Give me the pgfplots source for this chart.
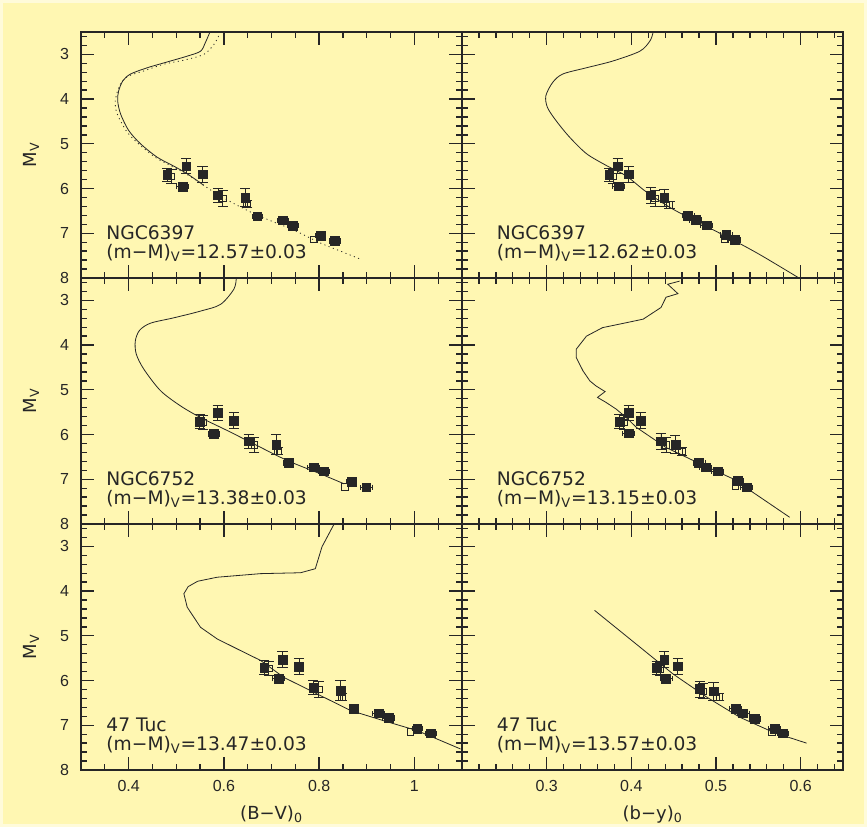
\documentclass[border=0pt]{standalone}
\usepackage{fontspec}
\setmainfont{Liberation Sans}
\newfontfamily\annfont{DejaVu Sans}
\usepackage{pgfplots}
\pgfplotsset{compat=1.18}

\definecolor{bg}{RGB}{255,247,178}
\definecolor{bgedge}{RGB}{255,251,218}
\definecolor{ink}{RGB}{38,38,38}

\newcommand\ticksfont{\fontsize{12}{14}\selectfont}
\newcommand\annsize{\annfont\fontsize{14}{16}\selectfont}
\newcommand\labsize{\annfont\fontsize{13.5}{16}\selectfont}

\pgfplotsset{
  panel/.style={
    scale only axis, width=285.75pt, height=184.5pt, anchor=north west,
    ymin=2.5, ymax=8, y dir=reverse,
    ytick={3,4,5,6,7,8},
    minor ytick={2.6,2.8,3.2,3.4,3.6,3.8,4.2,4.4,4.6,4.8,5.2,5.4,5.6,5.8,6.2,6.4,6.6,6.8,7.2,7.4,7.6,7.8},
    tick align=inside,
    major tick length=9.75pt, minor tick length=4.5pt,
    every tick/.style={ink, line width=1pt},
    axis line style={ink, line width=1.3pt},
    ticklabel style={font=\ticksfont, text=ink},
    /pgf/number format/assume math mode=true,
    xticklabel shift=4.5pt, yticklabel shift=5.5pt,
    clip mode=individual,
  },
  bv/.style={xmin=0.3, xmax=1.1, xtick={0.4,0.6,0.8,1},
    minor xtick={0.35,0.45,0.5,0.55,0.65,0.7,0.75,0.85,0.9,0.95,1.05}},
  by/.style={xmin=0.2, xmax=0.65, xtick={0.3,0.4,0.5,0.6},
    minor xtick={0.22,0.24,0.26,0.28,0.32,0.34,0.36,0.38,0.42,0.44,0.46,0.48,0.52,0.54,0.56,0.58,0.62,0.64},
    yticklabels={}},
  notx/.style={xticklabels={}},
  iso/.style={ink, line width=0.6pt, mark=none},
  filled/.style={only marks, mark=square*, mark size=3.3pt, draw=ink, fill=ink},
  open/.style={only marks, mark=square, mark size=2.5pt, ink, mark options={line width=0.6pt}},
  yerr/.style={error bars/.cd, y dir=both, y explicit,
    error bar style={line width=0.7pt, ink},
    error mark options={rotate=90, mark size=3.8pt, line width=0.7pt, ink}},
  xerr/.style={error bars/.cd, x dir=both, x explicit,
    error bar style={line width=0.7pt, ink},
    error mark options={rotate=90, mark size=2pt, line width=0.7pt, ink}},
}

\begin{document}
\begin{tikzpicture}
\fill[bgedge] (0,0) rectangle (650.25pt,620.25pt);
\fill[bg] (2.25pt,2.25pt) rectangle (648pt,618pt);

% NGC6397, (B-V)
\begin{axis}[panel, bv, notx, at={(60.75pt,596.25pt)}]
\addplot[iso, smooth] coordinates {(0.570,2.52) (0.561,2.74) (0.551,2.93) (0.523,3.04) (0.481,3.17) (0.439,3.30) (0.404,3.44) (0.388,3.59) (0.379,3.82) (0.377,4.04) (0.383,4.33) (0.400,4.70) (0.425,5.00) (0.460,5.30) (0.495,5.50) (0.523,5.67) (0.558,5.93)};
\addplot[iso, smooth, dash pattern=on 0.8pt off 2.6pt] coordinates {(0.589,2.59) (0.579,2.78) (0.558,3.00) (0.516,3.13) (0.474,3.22) (0.432,3.37) (0.397,3.50) (0.381,3.70) (0.372,4.04) (0.376,4.33) (0.397,4.74) (0.425,5.04) (0.460,5.33) (0.502,5.56) (0.540,5.80) (0.579,6.08) (0.620,6.33) (0.663,6.56) (0.705,6.75) (0.747,6.93) (0.803,7.22) (0.845,7.40) (0.887,7.58)};
\addplot[open, yerr] coordinates {(0.490,5.73) +- (0,0.15) (0.598,6.22) +- (0,0.17) (0.649,6.34) +- (0,0.08)};
\addplot[open] coordinates {(0.789,7.14)};
\addplot[filled, yerr] coordinates {(0.481,5.70) +- (0,0.15) (0.521,5.50) +- (0,0.17) (0.555,5.68) +- (0,0.18) (0.588,6.15) +- (0,0.16) (0.645,6.20) +- (0,0.20)};
\addplot[filled, xerr] coordinates {(0.513,5.96) +- (0.012,0) (0.670,6.62) +- (0.010,0) (0.724,6.71) +- (0.012,0) (0.745,6.83) +- (0.012,0) (0.803,7.05) +- (0.010,0) (0.833,7.17) +- (0.012,0)};
\node[anchor=base west, font=\annsize, text=ink, inner sep=0] at (axis description cs:0.066,0.156) {NGC6397};
\node[anchor=base west, font=\annsize, text=ink, inner sep=0] at (axis description cs:0.066,0.079) {(m−M)\textsubscript{V}=12.57±0.03};
\end{axis}

% NGC6397, (b-y)
\begin{axis}[panel, by, notx, at={(346.5pt,596.25pt)}]
\addplot[iso, smooth] coordinates {(0.4255,2.52) (0.422,2.70) (0.410,2.93) (0.378,3.15) (0.347,3.30) (0.319,3.44) (0.307,3.63) (0.299,3.93) (0.301,4.19) (0.311,4.48) (0.327,4.85) (0.347,5.22) (0.370,5.48) (0.394,5.72) (0.418,6.08) (0.449,6.46) (0.489,6.85) (0.520,7.15) (0.552,7.48) (0.598,8.00)};
\addplot[open, yerr] coordinates {(0.379,5.73) +- (0,0.15) (0.428,6.22) +- (0,0.17) (0.445,6.36) +- (0,0.08)};
\addplot[open] coordinates {(0.510,7.13)};
\addplot[filled, yerr] coordinates {(0.374,5.70) +- (0,0.15) (0.384,5.50) +- (0,0.17) (0.397,5.68) +- (0,0.18) (0.423,6.15) +- (0,0.18) (0.439,6.21) +- (0,0.20)};
\addplot[filled, xerr] coordinates {(0.385,5.95) +- (0.007,0) (0.467,6.61) +- (0.007,0) (0.476,6.70) +- (0.007,0) (0.489,6.82) +- (0.007,0) (0.512,7.04) +- (0.007,0) (0.522,7.15) +- (0.007,0)};
\node[anchor=base west, font=\annsize, text=ink, inner sep=0] at (axis description cs:0.091,0.156) {NGC6397};
\node[anchor=base west, font=\annsize, text=ink, inner sep=0] at (axis description cs:0.091,0.079) {(m−M)\textsubscript{V}=12.62±0.03};
\end{axis}

% NGC6752, (B-V)
\begin{axis}[panel, bv, notx, at={(60.75pt,411.75pt)}]
\addplot[iso, smooth] coordinates {(0.626,2.51) (0.621,2.75) (0.593,3.09) (0.551,3.24) (0.495,3.39) (0.446,3.51) (0.423,3.67) (0.414,3.91) (0.416,4.20) (0.432,4.54) (0.467,5.02) (0.509,5.36) (0.551,5.62) (0.607,5.91) (0.663,6.21) (0.733,6.58) (0.803,6.88) (0.852,7.10)};
\addplot[open, yerr] coordinates {(0.557,5.73) +- (0,0.15) (0.664,6.23) +- (0,0.17) (0.713,6.36) +- (0,0.08)};
\addplot[open] coordinates {(0.854,7.17)};
\addplot[filled, yerr] coordinates {(0.549,5.71) +- (0,0.15) (0.587,5.51) +- (0,0.17) (0.621,5.69) +- (0,0.18) (0.652,6.15) +- (0,0.16) (0.710,6.22) +- (0,0.22)};
\addplot[filled, xerr] coordinates {(0.579,5.99) +- (0.012,0) (0.736,6.64) +- (0.010,0) (0.788,6.73) +- (0.012,0) (0.810,6.82) +- (0.012,0) (0.868,7.05) +- (0.010,0) (0.899,7.18) +- (0.012,0)};
\node[anchor=base west, font=\annsize, text=ink, inner sep=0] at (axis description cs:0.066,0.156) {NGC6752};
\node[anchor=base west, font=\annsize, text=ink, inner sep=0] at (axis description cs:0.066,0.079) {(m−M)\textsubscript{V}=13.38±0.03};
\end{axis}

% NGC6752, (b-y)
\begin{axis}[panel, by, notx, at={(346.5pt,411.75pt)}]
\addplot[iso] coordinates {(0.457,2.57) (0.443,2.64) (0.455,2.85) (0.441,2.93) (0.435,3.16) (0.414,3.42) (0.394,3.50) (0.366,3.61) (0.347,3.80) (0.335,4.09) (0.335,4.28) (0.343,4.58) (0.351,4.80) (0.358,4.91) (0.369,5.04) (0.360,5.17) (0.370,5.28) (0.382,5.43) (0.394,5.62) (0.406,5.84) (0.441,6.29) (0.473,6.58) (0.520,6.99) (0.552,7.40) (0.587,7.85)};
\addplot[open, yerr] coordinates {(0.391,5.73) +- (0,0.15) (0.441,6.23) +- (0,0.17) (0.460,6.38) +- (0,0.08)};
\addplot[open] coordinates {(0.523,7.15)};
\addplot[filled, yerr] coordinates {(0.386,5.71) +- (0,0.15) (0.397,5.51) +- (0,0.17) (0.411,5.69) +- (0,0.18) (0.435,6.15) +- (0,0.18) (0.452,6.23) +- (0,0.20)};
\addplot[filled, xerr] coordinates {(0.397,5.97) +- (0.007,0) (0.480,6.64) +- (0.007,0) (0.488,6.73) +- (0.007,0) (0.502,6.82) +- (0.007,0) (0.526,7.04) +- (0.007,0) (0.536,7.18) +- (0.007,0)};
\node[anchor=base west, font=\annsize, text=ink, inner sep=0] at (axis description cs:0.091,0.156) {NGC6752};
\node[anchor=base west, font=\annsize, text=ink, inner sep=0] at (axis description cs:0.091,0.079) {(m−M)\textsubscript{V}=13.15±0.03};
\end{axis}

% 47 Tuc, (B-V)
\begin{axis}[panel, bv, at={(60.75pt,227.25pt)}]
\addplot[iso] coordinates {(0.831,2.51) (0.806,3.01) (0.792,3.50) (0.761,3.59) (0.677,3.61) (0.586,3.69) (0.545,3.78) (0.525,3.90) (0.516,4.06) (0.523,4.36) (0.551,4.81) (0.586,5.07) (0.635,5.33) (0.677,5.55) (0.726,5.93) (0.796,6.30) (0.866,6.67) (0.936,6.90) (1.006,7.12) (1.097,7.53)};
\addplot[open, yerr] coordinates {(0.694,5.73) +- (0,0.15) (0.799,6.20) +- (0,0.17) (0.848,6.36) +- (0,0.08)};
\addplot[open] coordinates {(0.992,7.15)};
\addplot[filled, yerr] coordinates {(0.685,5.71) +- (0,0.15) (0.723,5.53) +- (0,0.17) (0.758,5.69) +- (0,0.18) (0.788,6.16) +- (0,0.16) (0.845,6.22) +- (0,0.22)};
\addplot[filled, xerr] coordinates {(0.715,5.96) +- (0.012,0) (0.873,6.63) +- (0.010,0) (0.925,6.73) +- (0.012,0) (0.946,6.84) +- (0.012,0) (1.006,7.07) +- (0.010,0) (1.035,7.18) +- (0.012,0)};
\node[anchor=base west, font=\annsize, text=ink, inner sep=0] at (axis description cs:0.066,0.156) {47 Tuc};
\node[anchor=base west, font=\annsize, text=ink, inner sep=0] at (axis description cs:0.066,0.079) {(m−M)\textsubscript{V}=13.47±0.03};
\end{axis}

% 47 Tuc, (b-y)
\begin{axis}[panel, by, at={(346.5pt,227.25pt)}]
\addplot[iso] coordinates {(0.3565,4.43) (0.410,5.25) (0.449,5.85) (0.489,6.37) (0.528,6.82) (0.568,7.16) (0.607,7.40)};
\addplot[open, yerr] coordinates {(0.434,5.74) +- (0,0.15) (0.485,6.24) +- (0,0.17) (0.504,6.37) +- (0,0.08)};
\addplot[open] coordinates {(0.566,7.16)};
\addplot[filled, yerr] coordinates {(0.430,5.72) +- (0,0.15) (0.439,5.53) +- (0,0.17) (0.455,5.68) +- (0,0.18) (0.481,6.19) +- (0,0.18) (0.497,6.24) +- (0,0.20)};
\addplot[filled, xerr] coordinates {(0.441,5.96) +- (0.007,0) (0.523,6.63) +- (0.007,0) (0.532,6.73) +- (0.007,0) (0.546,6.86) +- (0.007,0) (0.569,7.08) +- (0.007,0) (0.579,7.18) +- (0.007,0)};
\node[anchor=base west, font=\annsize, text=ink, inner sep=0] at (axis description cs:0.091,0.156) {47 Tuc};
\node[anchor=base west, font=\annsize, text=ink, inner sep=0] at (axis description cs:0.091,0.079) {(m−M)\textsubscript{V}=13.57±0.03};
\end{axis}

% axis labels
\foreach \yc in {504pt,319.5pt,135pt}
  \node[rotate=90, font=\labsize, text=ink] at (23.25pt,\yc) {M\textsubscript{V}};
\node[anchor=base, font=\labsize, text=ink] at (203.6pt,5.25pt) {(B−V)\textsubscript{0}};
\node[anchor=base, font=\labsize, text=ink] at (489.4pt,5.25pt) {(b−y)\textsubscript{0}};

\pgfresetboundingbox
\path[use as bounding box] (0,0) rectangle (650.25pt,620.25pt);
\end{tikzpicture}
\end{document}
